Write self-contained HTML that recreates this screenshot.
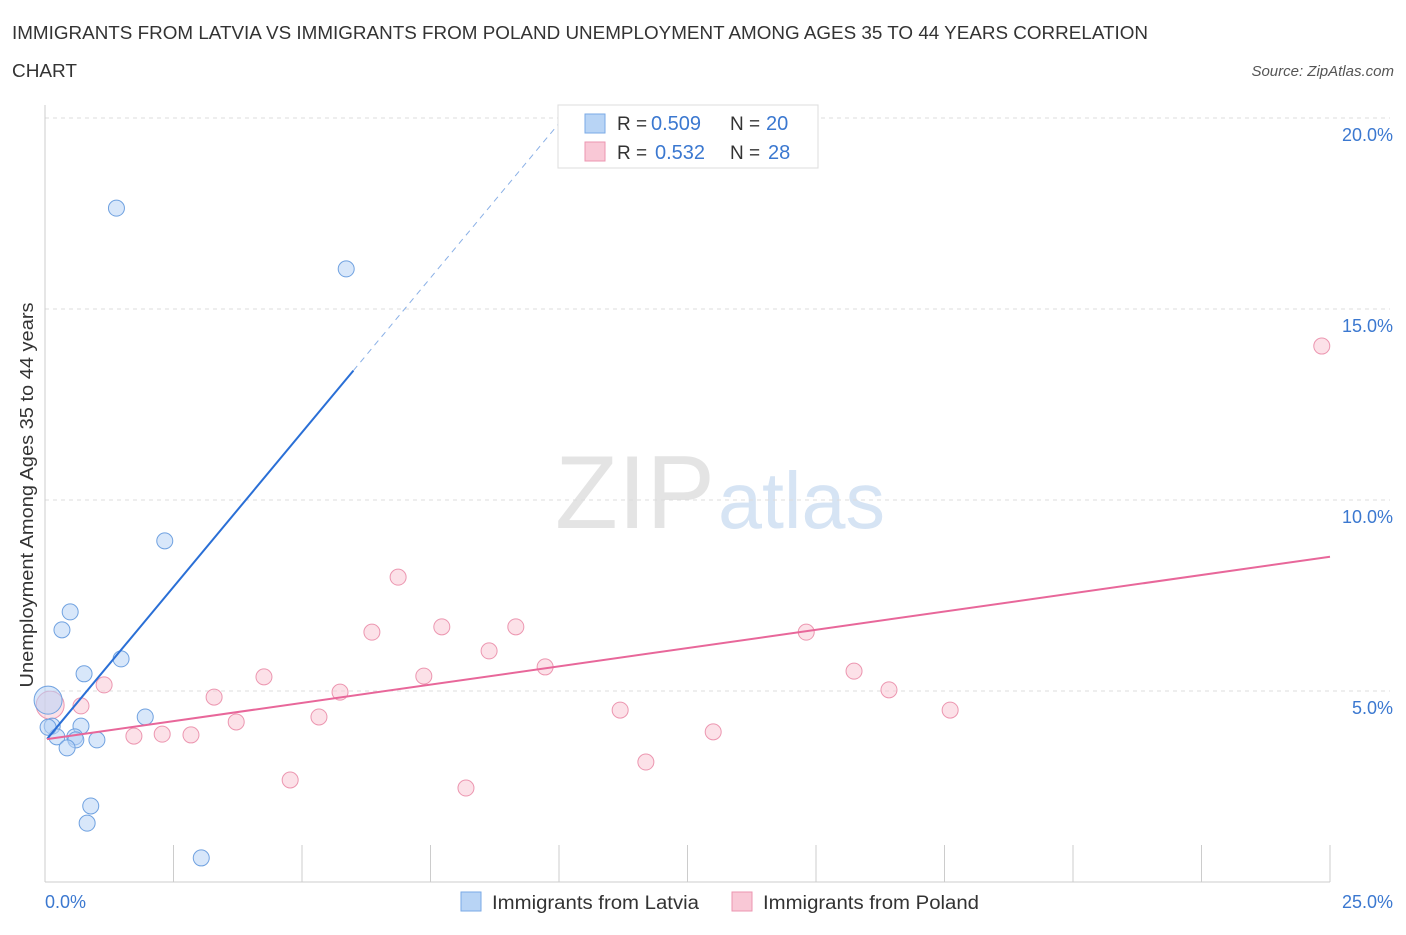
<!DOCTYPE html>
<html><head><meta charset="utf-8"><style>
body{margin:0;background:#fff;font-family:"Liberation Sans",sans-serif;}
svg text{font-family:"Liberation Sans",sans-serif;}
</style></head><body>
<svg id="c" width="1406" height="930">
<text x="12" y="39" font-size="18" fill="#333" textLength="1136" lengthAdjust="spacingAndGlyphs">IMMIGRANTS FROM LATVIA VS IMMIGRANTS FROM POLAND UNEMPLOYMENT AMONG AGES 35 TO 44 YEARS CORRELATION</text>
<text x="12" y="77" font-size="18" fill="#333" textLength="65" lengthAdjust="spacingAndGlyphs">CHART</text>
<text x="1394" y="76" font-size="15" fill="#555" font-style="italic" text-anchor="end">Source: ZipAtlas.com</text>
<text x="555" y="528" font-size="104" fill="#e4e4e4" textLength="160" lengthAdjust="spacingAndGlyphs" font-family="Liberation Serif">ZIP</text>
<text x="718" y="528" font-size="80" fill="#d6e4f4" textLength="167" lengthAdjust="spacingAndGlyphs">atlas</text>
<text x="33" y="495" font-size="18" fill="#333" text-anchor="middle" transform="rotate(-90 33 495)" textLength="385" lengthAdjust="spacingAndGlyphs">Unemployment Among Ages 35 to 44 years</text>
<g id="grid"></g><g id="marks"></g>
<g>
<rect x="558" y="105" width="260" height="63" fill="#fff" stroke="#ddd"/>
<rect x="585" y="114" width="20" height="19" fill="#b8d4f5" stroke="#7aaae6"/>
<text x="617" y="130" font-size="19" fill="#333">R =</text>
<text x="651" y="130" font-size="20" fill="#3b78d0">0.509</text>
<text x="730" y="130" font-size="19" fill="#333">N =</text>
<text x="766" y="130" font-size="20" fill="#3b78d0">20</text>
<rect x="585" y="142" width="20" height="19" fill="#f9c8d6" stroke="#ec96b0"/>
<text x="617" y="159" font-size="19" fill="#333">R =</text>
<text x="655" y="159" font-size="20" fill="#3b78d0">0.532</text>
<text x="730" y="159" font-size="19" fill="#333">N =</text>
<text x="768" y="159" font-size="20" fill="#3b78d0">28</text>
</g>
<g>
<rect x="461" y="892" width="20" height="19" fill="#b8d4f5" stroke="#7aaae6"/>
<text x="492" y="909" font-size="19" fill="#333" textLength="207" lengthAdjust="spacingAndGlyphs">Immigrants from Latvia</text>
<rect x="732" y="892" width="20" height="19" fill="#f9c8d6" stroke="#ec96b0"/>
<text x="763" y="909" font-size="19" fill="#333" textLength="216" lengthAdjust="spacingAndGlyphs">Immigrants from Poland</text>
</g>
</svg>
<script>
const yTicks=[5,10,15,20];
const xTickLabels=["0.0%","25.0%"];
const latviaX=[1.39,5.86,2.33,0.49,0.33,1.48,0.76,1.95,0.70,0.06,0.14,0.23,0.58,0.60,1.01,0.43,0.89,0.82,3.04,0.06];
const latviaY=[17.64,16.05,8.93,7.07,6.60,5.84,5.45,4.32,4.08,4.76,4.08,3.80,3.80,3.72,3.72,3.51,1.99,1.54,0.63,4.05];
const polandX=[24.84,6.87,6.36,7.72,9.16,8.64,9.73,14.81,15.74,16.42,17.61,4.26,5.74,7.37,3.29,1.15,0.70,3.72,5.33,1.73,2.28,2.84,13.0,11.19,11.69,4.77,8.19,0.1];
const polandY=[14.03,7.98,6.54,6.68,6.68,6.05,5.63,6.54,5.52,5.03,4.50,5.37,4.97,5.39,4.84,5.16,4.61,4.19,4.32,3.82,3.87,3.85,3.93,4.50,3.14,2.67,2.46,4.63];
const latviaFit=[3.68,1.618]; const polandFit=[3.74,0.191];
const X=v=>45+v*51.4, Y=v=>882-v*38.2;
const NS="http://www.w3.org/2000/svg";
function mk(t,a,p){const e=document.createElementNS(NS,t);for(const k in a)e.setAttribute(k,a[k]);p.appendChild(e);return e;}
const g=document.getElementById('grid'),m=document.getElementById('marks');
yTicks.forEach(t=>{
 const l=mk('line',{x1:45,x2:1390,y1:Y(t),y2:Y(t),stroke:'#ddd','stroke-dasharray':'4,4'},g);
 
 
 const tx=mk('text',{x:1393,y:Y(t)+23,'font-size':18,fill:'#3b78d0','text-anchor':'end'},g);
 tx.textContent=t.toFixed(1)+'%';
 
 
});
mk('line',{x1:45,x2:45,y1:105,y2:882,stroke:'#ccc'},g);
mk('line',{x1:45,x2:1330,y1:882,y2:882,stroke:'#ccc'},g);
for(let i=1;i<=10;i++){const l=mk('line',{x1:X(i*2.5),x2:X(i*2.5),y1:845,y2:882,stroke:'#ccc'},g);
 
 }
xTickLabels.forEach((s,i)=>{const t=mk('text',{x:i?1393:45,y:908,'font-size':18,fill:'#3b78d0','text-anchor':i?'end':'start'},g);t.textContent=s;
 
 });
function pts(xs,ys,fill,stroke,name){xs.forEach((x,i)=>{const big=(name==='poland-point'&&i===xs.length-1)||(name==='latvia-point'&&i===9);
 const c=mk('circle',{cx:X(x),cy:Y(ys[i]),r:big?14:8,fill,stroke,'fill-opacity':0.55},m);
 
 });}
pts(polandX,polandY,'#f9c8d6','#ec96b0','poland-point');
pts(latviaX,latviaY,'#b8d4f5','#6fa1e0','latvia-point');
let l=mk('line',{x1:X(0.04),y1:Y(latviaFit[0]+latviaFit[1]*0.04),x2:X(6),y2:Y(latviaFit[0]+latviaFit[1]*6),stroke:'#2a6fd6','stroke-width':2},m);


l=mk('line',{x1:X(6),y1:Y(latviaFit[0]+latviaFit[1]*6),x2:X(10),y2:Y(latviaFit[0]+latviaFit[1]*10),stroke:'#8ab0e6','stroke-width':1,'stroke-dasharray':'6,5'},m);


l=mk('line',{x1:X(0.04),y1:Y(polandFit[0]),x2:X(25),y2:Y(polandFit[0]+polandFit[1]*25),stroke:'#e8679a','stroke-width':2},m);


</script>
</body></html>
